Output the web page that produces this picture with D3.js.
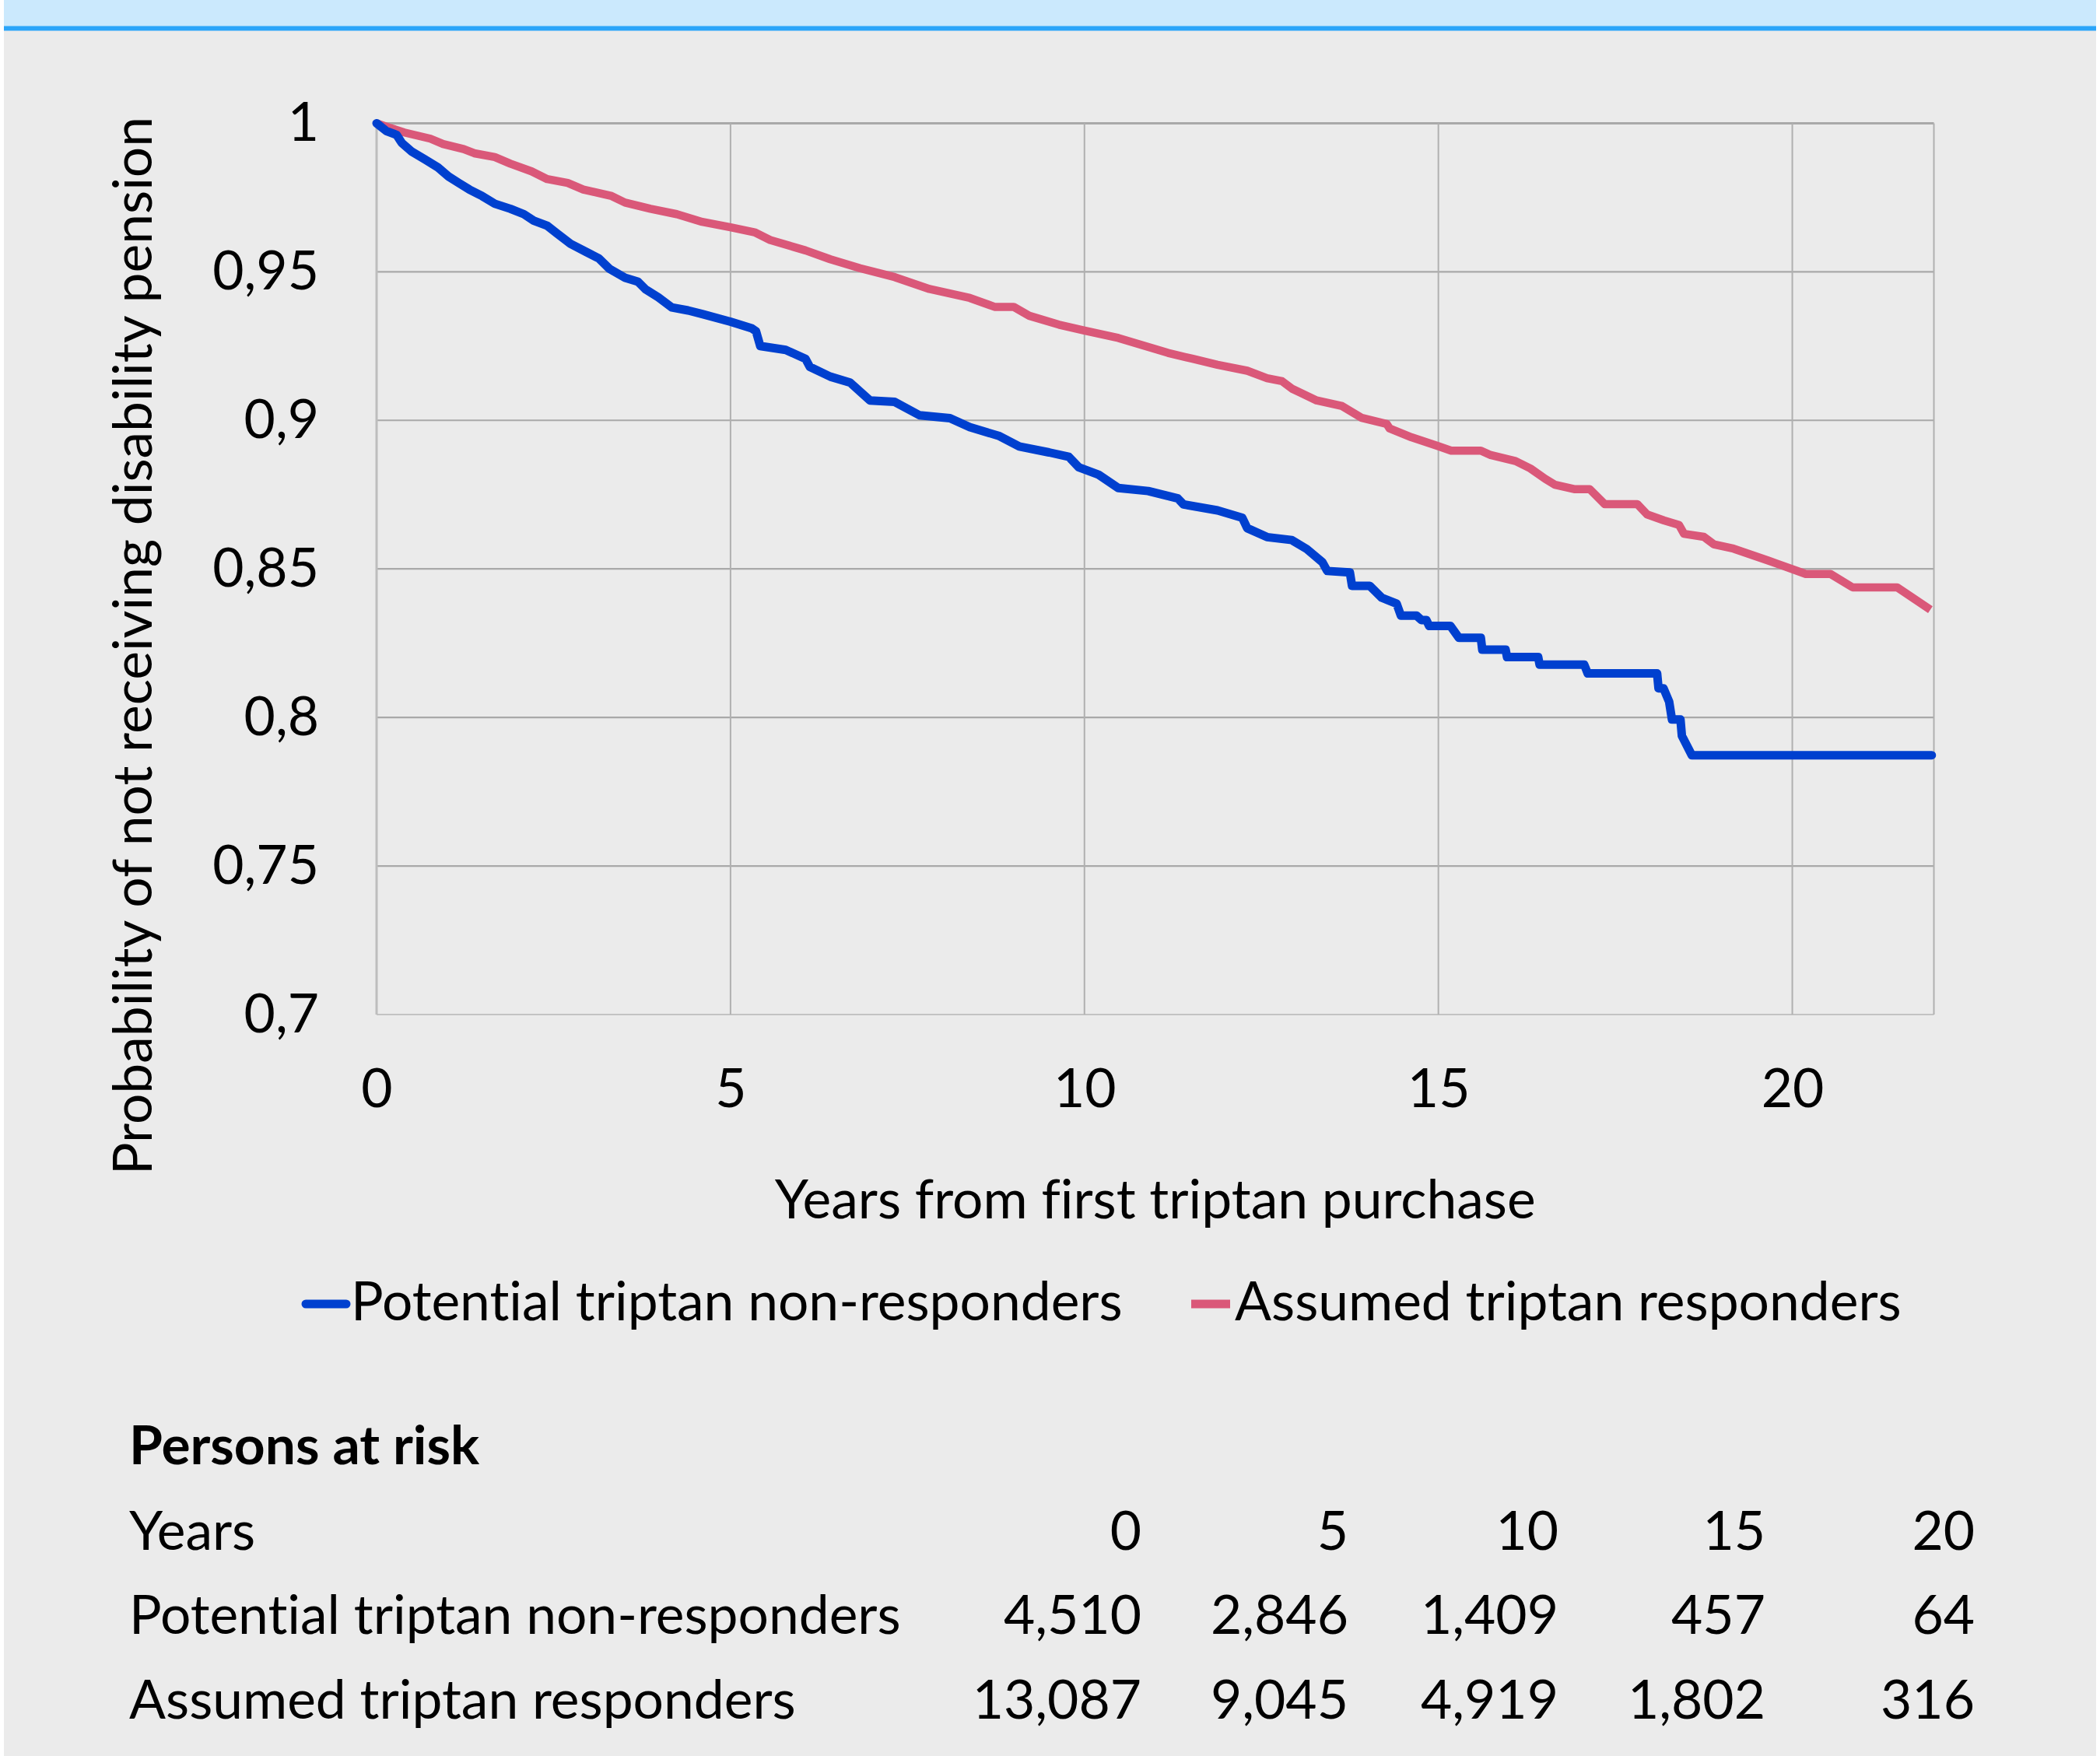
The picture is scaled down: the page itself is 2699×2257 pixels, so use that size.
<!DOCTYPE html>
<html><head><meta charset="utf-8">
<script src="https://cdn.jsdelivr.net/npm/d3@7"></script>
<style>
body{margin:0;background:#ffffff}
svg{display:block}
text{font-family:Lato,"Open Sans",sans-serif;fill:#000;font-variant-ligatures:none;font-feature-settings:"liga" 0,"clig" 0}
</style>
</head><body>
<script>
// ---------- data ----------
const xTicks = [0, 5, 10, 15, 20];
const yTicks = [0.7, 0.75, 0.8, 0.85, 0.9, 0.95, 1];
const yTickLabels = ["0,7", "0,75", "0,8", "0,85", "0,9", "0,95", "1"];
const seriesNames = ["Potential triptan non-responders", "Assumed triptan responders"];

const nonRespT = [0,0.136,0.282,0.355,0.50,0.685,0.868,1.015,1.16,1.31,1.49,1.67,1.89,2.08,2.22,2.41,2.55,2.74,2.96,3.14,3.29,3.51,3.69,3.80,3.98,4.17,4.40,4.60,5.0,5.30,5.36,5.42,5.78,6.06,6.12,6.41,6.69,6.97,7.32,7.67,8.10,8.38,8.80,9.08,9.50,9.78,9.92,10.20,10.48,10.90,11.32,11.40,11.88,12.23,12.30,12.58,12.93,13.14,13.36,13.43,13.75,13.78,14.03,14.20,14.41,14.47,14.69,14.76,14.83,14.87,15.17,15.29,15.60,15.62,15.95,15.97,16.41,16.43,17.06,17.11,18.09,18.11,18.18,18.26,18.30,18.42,18.44,18.58,21.97];
const nonRespS = [1.0,0.9974,0.9961,0.9934,0.9904,0.9878,0.9851,0.9821,0.9799,0.9777,0.9755,0.9729,0.9712,0.9694,0.9672,0.9655,0.9629,0.9594,0.9567,0.9545,0.9510,0.9480,0.9467,0.9441,0.9414,0.9380,0.9370,0.9358,0.9332,0.9310,0.9300,0.9250,0.9237,0.9207,0.9180,0.9147,0.9127,0.9067,0.9062,0.9017,0.9007,0.8977,0.8947,0.8912,0.8892,0.8877,0.8842,0.8817,0.8772,0.8762,0.8737,0.8717,0.8697,0.8672,0.8637,0.8607,0.8597,0.8567,0.8523,0.8493,0.8488,0.8443,0.8443,0.8403,0.8383,0.8343,0.8343,0.8328,0.8328,0.8308,0.8308,0.8268,0.8268,0.8228,0.8228,0.8203,0.8203,0.8178,0.8178,0.8148,0.8148,0.8098,0.8098,0.8053,0.7993,0.7993,0.7938,0.7873,0.7873];

const respT = [0,0.21,0.39,0.76,0.94,1.23,1.38,1.67,1.89,2.19,2.41,2.70,2.92,3.32,3.51,3.87,4.24,4.60,5.0,5.34,5.56,6.06,6.41,6.83,7.32,7.81,8.38,8.73,9.00,9.22,9.64,10.0,10.48,10.83,11.18,11.53,11.88,12.30,12.58,12.79,12.93,13.28,13.64,13.92,14.27,14.31,14.62,15.0,15.18,15.60,15.74,16.09,16.30,16.51,16.65,16.93,17.14,17.35,17.81,17.95,18.19,18.40,18.47,18.75,18.89,19.17,19.66,20.19,20.54,20.85,21.48,21.95];
const respS = [1.0,0.9983,0.9969,0.9948,0.9930,0.9913,0.9899,0.9886,0.9864,0.9838,0.9812,0.9799,0.9777,0.9755,0.9733,0.9712,0.9694,0.9668,0.9650,0.9633,0.9607,0.9572,0.9542,0.9512,0.9482,0.9442,0.9412,0.9382,0.9382,0.9352,0.9322,0.9302,0.9277,0.9252,0.9227,0.9207,0.9187,0.9167,0.9142,0.9132,0.9107,0.9067,0.9048,0.9008,0.8988,0.8973,0.8943,0.8913,0.8898,0.8898,0.8883,0.8863,0.8838,0.8803,0.8783,0.8768,0.8768,0.8718,0.8718,0.8683,0.8663,0.8648,0.8618,0.8608,0.8583,0.8568,0.8528,0.8483,0.8483,0.8438,0.8438,0.8363];

const riskTitle = "Persons at risk";
const riskYears = [0, 5, 10, 15, 20];
const riskNonResp = ["4,510", "2,846", "1,409", "457", "64"];
const riskResp = ["13,087", "9,045", "4,919", "1,802", "316"];

// ---------- layout ----------
const W = 2699, H = 2257;
const FS = 69.5;
const plot = {left: 484, right: 2485.5, top: 158.4, bottom: 1304};
const colBlue = "#0040cf", colPink = "#da5879";

const svg = d3.select("body").append("svg").attr("width", W).attr("height", H);

svg.append("rect").attr("x", 5).attr("y", 0).attr("width", W - 10).attr("height", H).attr("fill", "#ebebeb");
svg.append("rect").attr("x", 5).attr("y", 0).attr("width", W - 10).attr("height", 34).attr("fill", "#cbe9fd");
svg.append("rect").attr("x", 5).attr("y", 33.5).attr("width", W - 10).attr("height", 6).attr("fill", "#2ba5fa");

const x = d3.scaleLinear().domain([0, 22]).range([plot.left, plot.right]);
const y = d3.scaleLinear().domain([0.7, 1]).range([plot.bottom, plot.top]);

// grid
const grid = svg.append("g");
grid.selectAll("line.h").data(yTicks).join("line")
  .attr("x1", plot.left).attr("x2", plot.right)
  .attr("y1", d => y(d)).attr("y2", d => y(d))
  .attr("stroke", d => d === 0.7 ? "#c3c3c3" : "#a9a9a9").attr("stroke-width", d => d === 1 ? 3 : 2.2);
grid.selectAll("line.v").data(xTicks.concat([22])).join("line")
  .attr("y1", plot.top).attr("y2", plot.bottom)
  .attr("x1", d => x(d)).attr("x2", d => x(d))
  .attr("stroke", d => d === 0 ? "#bdbdbd" : "#b0b0b0").attr("stroke-width", d => d === 0 ? 3 : 2);

// axes labels
const yAxis = svg.append("g").attr("transform", `translate(${plot.left},0)`)
  .call(d3.axisLeft(y).tickValues(yTicks).tickSize(0).tickPadding(74)
    .tickFormat((d, i) => yTickLabels[i]));
const xAxis = svg.append("g").attr("transform", `translate(0,${plot.bottom})`)
  .call(d3.axisBottom(x).tickValues(xTicks).tickSize(0).tickPadding(70));
[yAxis, xAxis].forEach(a => {
  a.select(".domain").remove();
  a.attr("font-family", null).attr("font-size", null);
  a.selectAll("text").attr("font-size", FS).style("font-family", "Lato, sans-serif").attr("fill", "#000");
});

// titles
svg.append("text").attr("transform", "translate(195,830) rotate(-90)")
  .attr("text-anchor", "middle").attr("font-size", FS)
  .text("Probability of not receiving disability pension");
svg.append("text").attr("x", (plot.left + plot.right) / 2).attr("y", 1566)
  .attr("text-anchor", "middle").attr("font-size", FS)
  .text("Years from first triptan purchase");

// curves
const line = d3.line().x(d => x(d[0])).y(d => y(d[1])).curve(d3.curveLinear);
const nonResp = nonRespT.map((t, i) => [t, nonRespS[i]]);
const resp = respT.map((t, i) => [t, respS[i]]);
svg.append("path").datum(resp).attr("d", line).attr("fill", "none")
  .attr("stroke", colPink).attr("stroke-width", 10.5).attr("stroke-linejoin", "round").attr("stroke-linecap", "butt");
svg.append("path").datum(nonResp).attr("d", line).attr("fill", "none")
  .attr("stroke", colBlue).attr("stroke-width", 11).attr("stroke-linejoin", "round").attr("stroke-linecap", "round");

// legend
const leg = svg.append("g");
leg.append("line").attr("x1", 393).attr("x2", 445).attr("y1", 1676).attr("y2", 1676)
  .attr("stroke", colBlue).attr("stroke-width", 11).attr("stroke-linecap", "round");
leg.append("text").attr("x", 451).attr("y", 1697).attr("font-size", FS).text(seriesNames[0]);
leg.append("line").attr("x1", 1531).attr("x2", 1581).attr("y1", 1676).attr("y2", 1676)
  .attr("stroke", colPink).attr("stroke-width", 11);
leg.append("text").attr("x", 1587).attr("y", 1697).attr("font-size", FS).text(seriesNames[1]);

// persons at risk table
const colX = [1467, 1733, 2003, 2269, 2538];
const tbl = svg.append("g");
tbl.append("text").attr("x", 166).attr("y", 1882).attr("font-size", FS).attr("font-weight", "bold").text(riskTitle);
const rows = [
  {label: "Years", vals: riskYears.map(String), y: 1992},
  {label: seriesNames[0], vals: riskNonResp, y: 2100},
  {label: seriesNames[1], vals: riskResp, y: 2209}
];
rows.forEach(r => {
  tbl.append("text").attr("x", 166).attr("y", r.y).attr("font-size", FS).text(r.label);
  tbl.selectAll(null).data(r.vals).join("text")
    .attr("x", (d, i) => colX[i]).attr("y", r.y).attr("text-anchor", "end")
    .attr("font-size", FS).text(d => d);
});
</script>
</body></html>
